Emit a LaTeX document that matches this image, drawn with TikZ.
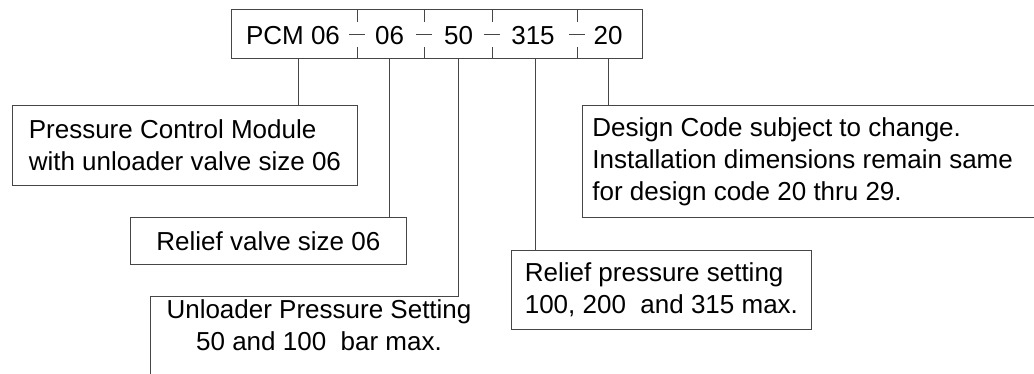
\documentclass[tikz,border=0pt]{standalone}
\usepackage{fontspec}
\setmainfont{Liberation Sans}
\definecolor{line_gray}{RGB}{70,70,70}
\newcommand\bigtext{\fontsize{26}{32}\selectfont}

\begin{document}
\begin{tikzpicture}[x=1pt,y=-1pt,line width=0.8pt]
    \tikzstyle{code}=[inner sep=0pt,anchor=base,font=\bigtext]
    \tikzstyle{note}=[draw=line_gray,anchor=north west,inner ysep=0pt,align=left,font=\bigtext]
    \tikzstyle{lead}=[draw=line_gray]

    \useasboundingbox (0,0) rectangle (1034,374);

    \node[draw=line_gray,minimum width=411pt,minimum height=49pt,inner sep=0pt] (codebox) at (436.5,33.5) {};
    \node[code] (pcm) at (293,45)   {PCM 06};
    \node[code] (rv)  at (389.5,45) {06};
    \node[code] (ul)  at (458.5,45) {50};
    \node[code] (rp)  at (533,45)   {315};
    \node[code] (dc)  at (608,45)   {20};

    \foreach \x in {357,424,492,577}
      \draw[line_gray] (\x,9) -- (\x,22) (\x-8,34) -- (\x+8,34) (\x,47) -- (\x,58);

    \node[note,minimum width=345pt,minimum height=80pt] (pcmnote) at (12,105)
      {Pressure Control Module\\with unloader valve size 06};
    \node[note,align=center,minimum width=276pt,minimum height=47pt] (rvnote) at (130,217)
      {Relief valve size 06};
    \node[align=center,font=\bigtext,inner sep=0pt] (ulnote) at (319,325)
      {Unloader Pressure Setting\\50 and 100\ \ bar max.};
    \node[note,minimum width=300pt,minimum height=79pt] (rpnote) at (511,250)
      {Relief pressure setting\\100, 200\ \ and 315 max.};
    \node[note,align=flush left,inner xsep=10pt,text width=450pt,minimum height=112pt] (dcnote) at (582,105)
      {Design Code subject to change.\\Installation dimensions remain same\\for design code 20 thru 29.};

    \coordinate (l1) at (298,0);
    \coordinate (l2) at (389,0);
    \coordinate (l3) at (458,296);
    \coordinate (l4) at (535,0);
    \coordinate (l5) at (608,0);

    \path[lead]
     (codebox.south -| l1) edge (pcmnote.north -| l1)
     (codebox.south -| l2) edge (rvnote.north -| l2)
     (codebox.south -| l4) edge (rpnote.north -| l4)
     (codebox.south -| l5) edge (dcnote.north -| l5)
     ;
    \draw[lead] (codebox.south -| l3) -- (l3) -- (150,296) -- (150,380);
\end{tikzpicture}
\end{document}
